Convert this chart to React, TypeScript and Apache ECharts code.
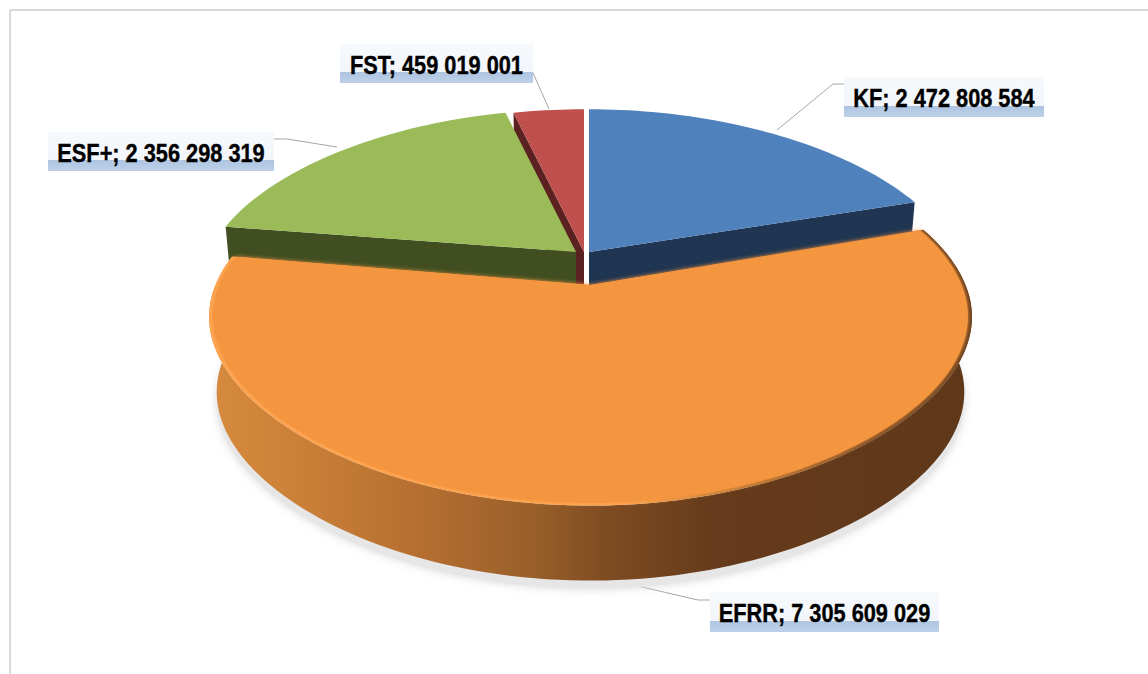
import React, { useEffect, useRef } from "react";
import * as echarts from "echarts";

const categories = ["KF", "EFRR", "ESF+", "FST"];
const values = [2472808584, 7305609029, 2356298319, 459019001];
const topColors = ["#4F81BD", "#F4953F", "#9BBB59", "#C0504D"];
const sideColors = ["#1F3552", "#000000", "#404E21", "#5C2221"];
// Painter's order: back slices first, the exploded front slice last.
const paintOrder = [0, 3, 2, 1];
// Which cut edge of each slice shows its side wall.
const visibleWall = ["end", "outer", "start", "start"];
const placement = [
  { cx: 589, cy: 252, rx: 366, ry: 155, p: 0.086, px: 0.183, k: 0 },
  { cx: 590.5, cy: 285, rx: 375, ry: 178, p: 0.193, px: 0.193, k: 0.015 },
  { cx: 576, cy: 252, rx: 366, ry: 155, p: 0.086, px: 0.183, k: 0 },
  { cx: 584, cy: 252, rx: 366, ry: 155, p: 0.086, px: 0.183, k: 0 },
];
const labelBoxes = [
  { x: 844, y: 77, w: 200, h: 40 },
  { x: 710, y: 592, w: 229, h: 40 },
  { x: 48, y: 132, w: 226, h: 39 },
  { x: 340, y: 44, w: 193, h: 39 },
];
const leaders = [
  [[777, 130], [833, 84], [844, 84]],
  [[629, 584], [698, 600], [710, 600]],
  [[274, 139], [287, 139], [337, 147]],
  [[533, 73], [549, 109]],
];
const DEPTH = 75;
const TAPER = 0.98;

const total = values.reduce((a, b) => a + b, 0);
const starts: number[] = [];
values.reduce((acc, v, i) => {
  starts[i] = acc;
  return acc + (v / total) * 360;
}, 0);
const ends = values.map((v, i) => starts[i] + (v / total) * 360);

function project(i: number, deg: number, r = 1): number[] {
  const { cx, cy, rx, ry, p, px, k } = placement[i];
  const t = (deg * Math.PI) / 180;
  const front = Math.cos(t) < 0 ? 1 - k * Math.sin(2 * t) ** 2 : 1;
  const u = r * front * Math.sin(t);
  const v = -r * front * Math.cos(t);
  return [cx + (rx * u) / (1 - px * v), cy + (ry * v) / (1 - p * v)];
}
function arc(i: number, a: number, b: number, r = 1): number[][] {
  const n = Math.max(2, Math.ceil((b - a) / 1.5));
  const out: number[][] = [];
  for (let j = 0; j <= n; j++) out.push(project(i, a + ((b - a) * j) / n, r));
  return out;
}
function lower(i: number, pt: number[], dy = DEPTH): number[] {
  const cx = placement[i].cx;
  return [cx + (pt[0] - cx) * TAPER, pt[1] + dy];
}
const fmt = (v: number) => String(v).replace(/\B(?=(\d{3})+(?!\d))/g, " ");

function hGrad(stops: [number, string][]) {
  return new echarts.graphic.LinearGradient(
    0, 0, 1, 0,
    stops.map(([offset, color]) => ({ offset, color }))
  );
}

function renderSlice(_params: any, api: any) {
  const a = api.value(0);
  const b = api.value(1);
  const i = api.value(2);
  const apex = [placement[i].cx, placement[i].cy];
  const outer = arc(i, a, b);
  const children: any[] = [];
  const wall = visibleWall[i];
  if (wall === "outer") {
    const bottom = outer.map((q) => lower(i, q)).reverse();
    children.push({
      type: "polygon",
      shape: { points: [...outer, ...bottom] },
      style: {
        fill: hGrad([
          [0, "#D68A3E"],
          [0.12, "#CB8038"],
          [0.28, "#B56E30"],
          [0.42, "#99602A"],
          [0.52, "#7F4C22"],
          [0.66, "#663B1B"],
          [1, "#5F381A"],
        ]),
      },
    });
    // Bevelled rim: light on the lit side, dark on the far side.
    children.push({
      type: "polygon",
      shape: { points: [apex, ...outer] },
      style: {
        fill: hGrad([
          [0, "#FFA653"],
          [0.55, "#FFA651"],
          [0.72, "#B0702F"],
          [0.86, "#7A4A20"],
          [1, "#6A401C"],
        ]),
      },
    });
    children.push({
      type: "polygon",
      shape: { points: [apex, ...arc(i, a, b, 0.99)] },
      style: { fill: topColors[i], shadowBlur: 4, shadowColor: topColors[i] },
    });
  } else {
    const edgeDeg = wall === "end" ? b : a;
    const q = project(i, edgeDeg);
    children.push({
      type: "polygon",
      shape: { points: [apex, q, lower(i, q), lower(i, apex)] },
      style: { fill: sideColors[i] },
    });
    children.push({
      type: "polygon",
      shape: { points: [apex, ...outer] },
      style: { fill: topColors[i] },
    });
  }
  return { type: "group", children };
}

function renderGroundShadow(_params: any, api: any) {
  const i = api.value(2);
  const outer = arc(i, api.value(0), api.value(1)).map((q) => lower(i, q, DEPTH + 8));
  return {
    type: "polygon",
    shape: { points: outer },
    style: { fill: "#E6E6E6", shadowBlur: 10, shadowColor: "#D8D8D8" },
  };
}

export default function App() {
  const ref = useRef<HTMLDivElement>(null);
  useEffect(() => {
    document.body.style.margin = "0";
    const chart = echarts.init(ref.current!, undefined, { renderer: "svg" });
    const rows = paintOrder.map((i) => [starts[i], ends[i], i]);
    const frame = { stroke: "#D9D9D9", lineWidth: 2 };
    const elements: any[] = [
      { type: "line", shape: { x1: 10, y1: 10, x2: 1148, y2: 10 }, style: frame },
      { type: "line", shape: { x1: 10, y1: 10, x2: 10, y2: 674 }, style: frame },
    ];
    categories.forEach((name, i) => {
      const box = labelBoxes[i];
      elements.push({
        type: "polyline",
        shape: { points: leaders[i] },
        style: { stroke: "#A6A6A6", lineWidth: 1, fill: "none" },
      });
      elements.push({
        type: "rect",
        shape: { x: box.x, y: box.y, width: box.w, height: box.h },
        style: {
          fill: new echarts.graphic.LinearGradient(0, 0, 0, 1, [
            { offset: 0, color: "#F6F9FC" },
            { offset: 0.72, color: "#F2F6FB" },
            { offset: 0.72, color: "#AEC5E1" },
            { offset: 1, color: "#BDD0E8" },
          ]),
        },
      });
      elements.push({
        type: "text",
        x: box.x + box.w / 2,
        y: box.y + 21,
        scaleX: 0.87,
        style: {
          text: `${name}; ${fmt(values[i])}`,
          fill: "#000000",
          stroke: "#000000",
          lineWidth: 0.4,
          font: 'bold 25px "Liberation Sans", Arial, sans-serif',
          align: "center",
          verticalAlign: "middle",
        },
      });
    });
    chart.setOption({
      animation: false,
      backgroundColor: "#FFFFFF",
      tooltip: { show: false },
      graphic: { elements },
      series: [
        {
          type: "custom",
          coordinateSystem: "none",
          silent: true,
          z: 1,
          renderItem: renderGroundShadow,
          data: [[starts[1], ends[1], 1]],
        },
        {
          type: "custom",
          coordinateSystem: "none",
          silent: true,
          z: 2,
          renderItem: renderSlice,
          data: rows,
        },
      ],
    });
    return () => chart.dispose();
  }, []);
  return <div ref={ref} style={{ width: 1148, height: 674 }} />;
}
